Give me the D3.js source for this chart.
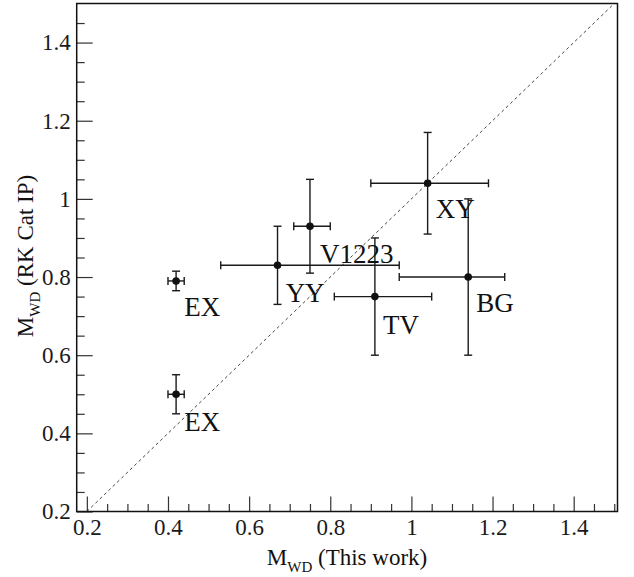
<!DOCTYPE html>
<html>
<head>
<meta charset="utf-8">
<script src="https://cdn.jsdelivr.net/npm/d3@7"></script>
<style>
  html, body { margin: 0; padding: 0; background: #fff; }
  svg { display: block; }
</style>
</head>
<body>
<svg id="chart" width="634" height="577"></svg>
<script>
// White-dwarf masses: this work vs. RK catalogue (IPs)
const names    = ["EX", "EX", "YY", "V1223", "TV", "XY", "BG"];
const mThis    = [0.42, 0.42, 0.67, 0.75, 0.91, 1.04, 1.14];
const mRK      = [0.79, 0.50, 0.83, 0.93, 0.75, 1.04, 0.80];
const errXLow  = [0.02, 0.02, 0.14, 0.04, 0.10, 0.14, 0.17];
const errXHigh = [0.02, 0.02, 0.30, 0.05, 0.14, 0.15, 0.09];
const errYLow  = [0.025, 0.05, 0.10, 0.12, 0.15, 0.13, 0.20];
const errYHigh = [0.025, 0.05, 0.10, 0.12, 0.15, 0.13, 0.20];
const labelX   = [0.44, 0.44, 0.69, 0.775, 0.93, 1.06, 1.16];
const labelY   = [0.70, 0.405, 0.735, 0.835, 0.655, 0.95, 0.71];

const xMajor = [0.2, 0.4, 0.6, 0.8, 1.0, 1.2, 1.4];
const yMajor = [0.2, 0.4, 0.6, 0.8, 1.0, 1.2, 1.4];
const majorLabels = ["0.2", "0.4", "0.6", "0.8", "1", "1.2", "1.4"];

const FONT = "'Liberation Serif', 'Times New Roman', Times, serif";
const svg = d3.select("#chart");
const plotL = 76.7, plotR = 617.5, plotT = 3.5, plotB = 511.5;

const x = d3.scaleLinear().domain([0.175, 1.508]).range([plotL, plotR]);
const y = d3.scaleLinear().domain([0.2, 1.5]).range([plotB, plotT]);

const minorVals = (lo, hi) => d3.range(Math.round(lo * 20), Math.round(hi * 20) + 1)
  .map(k => k / 20)
  .filter(v => Math.abs(v * 5 - Math.round(v * 5)) > 1e-6);

// identity line
svg.append("line")
  .attr("x1", x(0.2)).attr("y1", y(0.2))
  .attr("x2", x(1.5)).attr("y2", y(1.5))
  .attr("stroke", "#444").attr("stroke-width", 1)
  .attr("stroke-dasharray", "3,3");

// x axis
const xAxisG = svg.append("g").attr("transform", `translate(0,${plotB})`);
xAxisG.call(d3.axisBottom(x).tickValues(minorVals(0.2, 1.5)).tickFormat("")
  .tickSizeInner(-7.5).tickSizeOuter(0));
xAxisG.append("g").call(d3.axisBottom(x).tickValues(xMajor)
  .tickFormat((d, i) => majorLabels[i]).tickSizeInner(-15).tickSizeOuter(0).tickPadding(7));

// y axis
const yAxisG = svg.append("g").attr("transform", `translate(${plotL},0)`);
yAxisG.call(d3.axisLeft(y).tickValues(minorVals(0.25, 1.45)).tickFormat("")
  .tickSizeInner(-8).tickSizeOuter(0));
yAxisG.append("g").call(d3.axisLeft(y).tickValues(yMajor)
  .tickFormat((d, i) => majorLabels[i]).tickSizeInner(-16).tickSizeOuter(0).tickPadding(6));

svg.selectAll(".domain").remove();
svg.selectAll(".tick line").attr("stroke", "#333").attr("stroke-width", 1.2);
svg.selectAll(".tick text").attr("fill", "#1a1a1a")
  .style("font-family", FONT).style("font-size", "23px");

// frame
svg.append("rect")
  .attr("x", plotL).attr("y", plotT)
  .attr("width", plotR - plotL).attr("height", plotB - plotT)
  .attr("fill", "none").attr("stroke", "#111").attr("stroke-width", 1.5);

// error bars and points
const cap = 4;
const pts = svg.append("g").attr("stroke", "#1a1a1a").attr("stroke-width", 1.4);
names.forEach((n, i) => {
  const cx = x(mThis[i]), cy = y(mRK[i]);
  const x0 = x(mThis[i] - errXLow[i]), x1 = x(mThis[i] + errXHigh[i]);
  const y0 = y(mRK[i] - errYLow[i]), y1 = y(mRK[i] + errYHigh[i]);
  const g = pts.append("g");
  g.append("line").attr("x1", x0).attr("x2", x1).attr("y1", cy).attr("y2", cy);
  g.append("line").attr("x1", cx).attr("x2", cx).attr("y1", y0).attr("y2", y1);
  g.append("line").attr("x1", x0).attr("x2", x0).attr("y1", cy - cap).attr("y2", cy + cap);
  g.append("line").attr("x1", x1).attr("x2", x1).attr("y1", cy - cap).attr("y2", cy + cap);
  g.append("line").attr("x1", cx - cap).attr("x2", cx + cap).attr("y1", y0).attr("y2", y0);
  g.append("line").attr("x1", cx - cap).attr("x2", cx + cap).attr("y1", y1).attr("y2", y1);
  g.append("circle").attr("cx", cx).attr("cy", cy).attr("r", 3.8)
    .attr("fill", "#111").attr("stroke", "none");
});

// star labels
svg.append("g").selectAll("text").data(names).join("text")
  .attr("x", (d, i) => x(labelX[i]))
  .attr("y", (d, i) => y(labelY[i]))
  .attr("fill", "#111")
  .style("font-family", FONT).style("font-size", "27px")
  .text(d => d);

// axis titles
const xt = svg.append("text")
  .attr("x", 347).attr("y", 565)
  .attr("text-anchor", "middle").attr("fill", "#111")
  .style("font-family", FONT).style("font-size", "23px");
xt.append("tspan").text("M");
xt.append("tspan").style("font-size", "15px").attr("dy", 7).text("WD");
xt.append("tspan").attr("dy", -7).text(" (This work)");

const yt = svg.append("text")
  .attr("transform", "translate(33,256) rotate(-90)")
  .attr("text-anchor", "middle").attr("fill", "#111")
  .style("font-family", FONT).style("font-size", "23px");
yt.append("tspan").text("M");
yt.append("tspan").style("font-size", "15px").attr("dy", 7).text("WD");
yt.append("tspan").attr("dy", -7).text(" (RK Cat IP)");
</script>
</body>
</html>
